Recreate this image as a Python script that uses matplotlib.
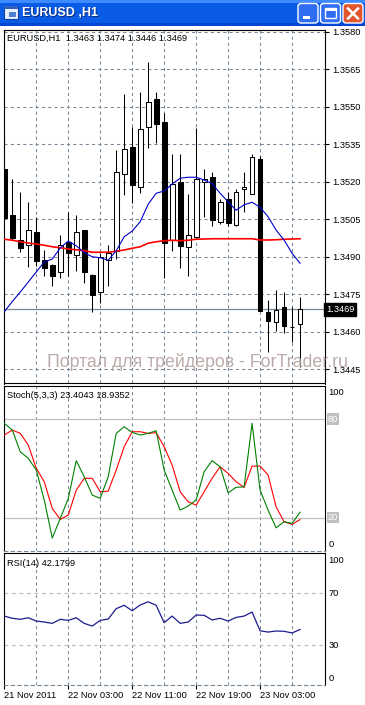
import matplotlib
matplotlib.use('Agg')
import matplotlib.pyplot as plt
import numpy as np
from matplotlib.patches import Rectangle, FancyBboxPatch

W, H = 365, 705

# EURUSD H1, 21 Nov 2011 19:00 .. 23 Nov 2011 08:00
opens = [1.35253, 1.35067, 1.34967, 1.34946, 1.34998, 1.34887, 1.34867, 1.34838,
         1.34960, 1.34906, 1.35006, 1.34827, 1.34758, 1.34886, 1.34924, 1.35230,
         1.35338, 1.35178, 1.35418, 1.35531, 1.35439, 1.34967, 1.35198, 1.34938,
         1.34978, 1.35198, 1.35218, 1.35038, 1.35130, 1.35026, 1.35170, 1.35150,
         1.35291, 1.34678, 1.34638, 1.34698, 1.34618, 1.34630]
highs = [1.35400, 1.35210, 1.35161, 1.35118, 1.35060, 1.34927, 1.34870, 1.34987,
         1.35080, 1.35067, 1.35008, 1.34830, 1.34916, 1.34947, 1.35329, 1.35551,
         1.35419, 1.35558, 1.35678, 1.35558, 1.35474, 1.35310, 1.35310, 1.35151,
         1.35414, 1.35251, 1.35238, 1.35130, 1.35158, 1.35170, 1.35238, 1.35310,
         1.35303, 1.34726, 1.34766, 1.34758, 1.34698, 1.34740]
lows = [1.35050, 1.34967, 1.34919, 1.34858, 1.34863, 1.34824, 1.34784, 1.34816,
        1.34823, 1.34843, 1.34796, 1.34678, 1.34716, 1.34784, 1.34891, 1.35147,
        1.35116, 1.35156, 1.35336, 1.35356, 1.34814, 1.34923, 1.34856, 1.34824,
        1.34970, 1.35060, 1.35023, 1.35030, 1.35024, 1.35024, 1.35080, 1.35150,
        1.34684, 1.34518, 1.34604, 1.34596, 1.34558, 1.34460]
closes = [1.35057, 1.34975, 1.34937, 1.35006, 1.34884, 1.34856, 1.34824, 1.34946,
          1.34916, 1.34998, 1.34838, 1.34746, 1.34898, 1.34916, 1.35238, 1.35330,
          1.35188, 1.35410, 1.35518, 1.35430, 1.34956, 1.35191, 1.34944, 1.34987,
          1.35211, 1.35211, 1.35046, 1.35119, 1.35036, 1.35158, 1.35178, 1.35298,
          1.34684, 1.34644, 1.34686, 1.34624, 1.34618, 1.34690]

# moving averages (blue - fast, red - slow)
ma_fast = [1.34680, 1.34721, 1.34759, 1.34799, 1.34839, 1.34879, 1.34891, 1.34935,
           1.34963, 1.34944, 1.34916, 1.34900, 1.34896, 1.34886, 1.34924, 1.34980,
           1.35003, 1.35040, 1.35110, 1.35154, 1.35163, 1.35191, 1.35214, 1.35218,
           1.35218, 1.35207, 1.35192, 1.35154, 1.35120, 1.35086, 1.35108, 1.35118,
           1.35098, 1.35060, 1.35007, 1.34967, 1.34914, 1.34874]
ma_slow = [1.34970, 1.34966, 1.34960, 1.34955, 1.34951, 1.34946, 1.34940, 1.34936,
           1.34931, 1.34928, 1.34924, 1.34918, 1.34918, 1.34918, 1.34922, 1.34927,
           1.34934, 1.34940, 1.34954, 1.34960, 1.34964, 1.34966, 1.34964, 1.34966,
           1.34970, 1.34971, 1.34972, 1.34972, 1.34972, 1.34972, 1.34972, 1.34972,
           1.34967, 1.34967, 1.34968, 1.34970, 1.34971, 1.34972]

# Stoch(5,3,3)
stoch_main = [77.4, 73.3, 60.1, 56.1, 49.0, 30.8, 7.7, 19.6, 31.6, 54.7,
              44.9, 33.8, 31.8, 44.9, 71.3, 75.3, 71.9, 70.3, 71.3, 72.9,
              49.0, 36.8, 24.7, 27.1, 30.8, 48.0, 54.7, 51.0, 35.2, 38.5,
              38.8, 77.4, 36.8, 24.7, 13.9, 17.6, 16.6, 23.4]
stoch_signal = [70.3, 73.3, 71.3, 64.2, 50.0, 41.9, 25.7, 19.0, 21.6, 36.8,
                44.0, 44.0, 35.8, 36.2, 49.0, 63.2, 72.3, 72.3, 71.3, 71.7,
                63.2, 52.0, 35.8, 29.7, 27.7, 35.8, 44.0, 51.0, 47.0, 41.9,
                38.5, 51.4, 51.4, 46.0, 26.7, 17.6, 16.0, 18.9]

# RSI(14)
rsi = [52.5, 50.8, 50.0, 51.2, 48.7, 47.9, 46.9, 50.0, 49.2, 51.2,
       46.9, 44.8, 49.2, 50.2, 58.2, 60.8, 56.6, 61.0, 63.5, 60.8,
       47.4, 52.5, 46.9, 47.9, 53.3, 53.1, 49.5, 50.8, 48.7, 51.5,
       52.5, 55.6, 41.2, 40.2, 41.0, 40.8, 39.5, 42.2]

price_ticks = [1.3445, 1.3460, 1.3475, 1.3490, 1.3505, 1.3520, 1.3535, 1.3550, 1.3565, 1.3580]
time_labels = ['21 Nov 2011', '22 Nov 03:00', '22 Nov 11:00', '22 Nov 19:00', '23 Nov 03:00']
label_bars = [0, 8, 16, 24, 32]

plt.rcParams['font.family'] = ['Liberation Sans', 'DejaVu Sans']
FS = 6.7
GRID = '#778899'
DASH = (0, (3, 3))

fig = plt.figure(figsize=(W / 100, H / 100), dpi=100)
fig.patch.set_facecolor('white')


def box(x0, y0, x1, y1):
    # pixel box -> figure fraction
    return [x0 / W, 1 - y1 / H, (x1 - x0) / W, (y1 - y0) / H]


def vgrid(ax):
    for b in range(4, 40, 4):
        ax.axvline(b, color=GRID, lw=0.75, ls=DASH, zorder=0)


x = np.arange(len(opens))
XLIM = (-0.1, 40.06)

# ---------------- main chart ----------------
ax1 = fig.add_axes(box(3.5, 30, 324.5, 383.5))
for p in price_ticks:
    ax1.axhline(p, color=GRID, lw=0.75, ls=DASH, zorder=0)
vgrid(ax1)
ax1.axhline(closes[-1], color=GRID, lw=0.9, zorder=1)

for i in range(len(opens)):
    o, h, l, c = opens[i], highs[i], lows[i], closes[i]
    ax1.vlines(x[i], l, h, color='black', lw=0.75, zorder=2)
    fc = 'white' if c >= o else 'black'
    ax1.bar(x[i], max(abs(c - o), 0.000001), bottom=min(o, c), width=0.6,
            facecolor=fc, edgecolor='black', linewidth=0.75, zorder=3)

ax1.plot(x, ma_slow, color='red', lw=1.2, zorder=4)
ax1.plot(x, ma_fast, color='#0000CC', lw=0.8, zorder=4)

ax1.set_xlim(*XLIM)
ax1.set_ylim(1.34393, 1.35807)
ax1.set_xticks([])
ax1.yaxis.tick_right()
ax1.set_yticks(price_ticks)
ax1.set_yticklabels(['%.4f' % p for p in price_ticks])
ax1.tick_params(axis='y', length=3, width=0.8, pad=2.5, labelsize=FS)
ax1.text(0.011, 0.9765, 'EURUSD,H1  1.3463 1.3474 1.3446 1.3469',
         transform=ax1.transAxes, fontsize=FS, va='center', ha='left')
ax1.text(1.004, closes[-1], '%.4f' % closes[-1], transform=ax1.get_yaxis_transform(),
         color='white', fontsize=FS, va='center', ha='left', zorder=10, clip_on=False,
         bbox=dict(facecolor='black', edgecolor='black', pad=1.6))

# ---------------- stochastic ----------------
ax2 = fig.add_axes(box(3.5, 385.5, 324.5, 551))
vgrid(ax2)
ax2.axhline(80, color='#C0C0C0', lw=0.9, zorder=1)
ax2.axhline(20, color='#C0C0C0', lw=0.9, zorder=1)
ax2.plot(x, stoch_signal, color='red', lw=0.8, zorder=3)
ax2.plot(x, stoch_main, color='#008000', lw=0.8, zorder=3)
ax2.set_xlim(*XLIM)
ax2.set_ylim(-0.2, 100.4)
ax2.set_xticks([])
ax2.set_yticks([])
ax2.spines['bottom'].set_color(GRID)
ax2.spines['bottom'].set_linestyle(DASH)
ax2.text(0.011, 0.938, 'Stoch(5,3,3) 23.4043 18.9352', transform=ax2.transAxes,
         fontsize=FS, va='center', ha='left')
yt2 = ax2.get_yaxis_transform()
ax2.text(1.0125, 96, '100', transform=yt2, fontsize=FS, va='center', ha='left')
ax2.text(1.0125, 4, '0', transform=yt2, fontsize=FS, va='center', ha='left')
for lv in (80, 20):
    ax2.text(1.01, lv, str(lv), transform=yt2, fontsize=FS, va='center', ha='left',
             color='white', bbox=dict(facecolor='#C0C0C0', edgecolor='none', pad=0.8))

# ---------------- RSI ----------------
ax3 = fig.add_axes(box(3.5, 553, 324.5, 685))
vgrid(ax3)
ax3.axhline(70, color='#C0C0C0', lw=0.9, ls=DASH, zorder=1)
ax3.axhline(30, color='#C0C0C0', lw=0.9, ls=DASH, zorder=1)
ax3.plot(x, rsi, color='#1C1C8C', lw=0.9, zorder=3)
ax3.set_xlim(*XLIM)
ax3.set_ylim(-0.5, 101)
ax3.set_yticks([])
ax3.spines['bottom'].set_color(GRID)
ax3.spines['bottom'].set_linestyle(DASH)
ax3.set_xticks(label_bars)
ax3.set_xticklabels(time_labels, ha='left', fontsize=FS)
ax3.tick_params(axis='x', length=3, width=0.8, pad=1.5, color='black')
ax3.text(0.011, 0.917, 'RSI(14) 42.1799', transform=ax3.transAxes,
         fontsize=FS, va='center', ha='left')
yt3 = ax3.get_yaxis_transform()
for val, lab in ((95, '100'), (70, '70'), (30, '30'), (4.6, '0')):
    ax3.text(1.0125, val, lab, transform=yt3, fontsize=FS, va='center', ha='left')

# watermark
fig.text(47 / W, 1 - 362 / H, 'Портал для трейдеров - ForTrader.ru', fontsize=12.8,
         color='#B09C9C', alpha=0.85, va='center', ha='left')

# ---------------- window title bar ----------------
axc = fig.add_axes([0, 1 - 26 / H, 1, 26 / H])
axc.set_xlim(0, W)
axc.set_ylim(26, 0)
axc.axis('off')
axc.add_patch(Rectangle((0, 0), W, 26, facecolor='#0A5CE6', edgecolor='none'))
axc.add_patch(Rectangle((0, 0), W, 3, facecolor='#3D8BFF', edgecolor='none'))
axc.add_patch(Rectangle((0, 23), W, 3, facecolor='#0046D0', edgecolor='none'))
# icon
axc.add_patch(Rectangle((4, 6), 14, 13, facecolor='#E8F0FF', edgecolor='#1040A0', lw=0.8))
axc.add_patch(Rectangle((4, 6), 14, 3, facecolor='#3060C0', edgecolor='none'))
axc.add_patch(Rectangle((9, 12), 7, 5, facecolor='#5080D0', edgecolor='none'))
axc.text(23, 14, 'EURUSD ,H1', color='#0A2A80', fontsize=9, fontweight='bold', va='center')
axc.text(22, 13, 'EURUSD ,H1', color='white', fontsize=9, fontweight='bold', va='center')
# buttons
for bx, fc in ((298, '#2F6EF2'), (320.5, '#2F6EF2'), (343, '#E2562F')):
    axc.add_patch(FancyBboxPatch((bx, 3.5), 20, 19.5,
                                 boxstyle='round,pad=0,rounding_size=3',
                                 facecolor=fc, edgecolor='white', lw=1.0))
axc.add_patch(Rectangle((303, 16), 7, 3, facecolor='white', edgecolor='none'))
axc.add_patch(Rectangle((325, 8), 11, 10, facecolor='none', edgecolor='white', lw=1.0))
axc.add_patch(Rectangle((325, 8), 11, 2.5, facecolor='white', edgecolor='none'))
axc.plot([348, 358], [8.5, 18.5], color='white', lw=1.8)
axc.plot([348, 358], [18.5, 8.5], color='white', lw=1.8)

fig.savefig('out.png', dpi=100, facecolor='white')
